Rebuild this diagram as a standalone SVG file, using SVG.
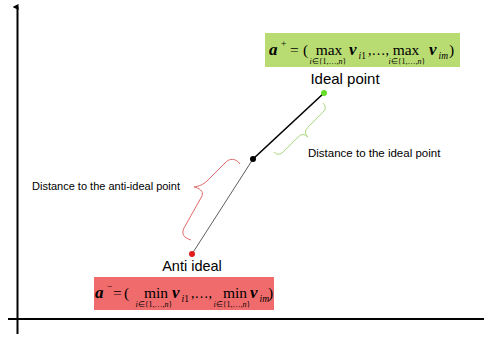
<svg xmlns="http://www.w3.org/2000/svg" width="484" height="338" viewBox="0 0 484 338">
<style>
.lbl{font-family:"Liberation Sans",Arial,sans-serif;fill:#000}
.m{font-family:"Liberation Serif","Times New Roman",serif;fill:#000;font-size:15.5px}
.bi{font-weight:bold;font-style:italic;font-size:17px}
.s{font-size:9.5px}
.c{font-size:14px}
.sub{font-size:8px;text-anchor:middle}
.it{font-style:italic}
.mid{text-anchor:middle}
</style>
<defs>
<marker id="ah" markerWidth="6" markerHeight="6" refX="3" refY="5" orient="auto" markerUnits="userSpaceOnUse">
<path d="M0,6 L3,0 L6,6 Z" fill="#000"/>
</marker>
</defs>
<rect width="484" height="338" fill="#fff"/>
<g id="axes">
<line x1="17.5" y1="334" x2="17.5" y2="7" stroke="#000" stroke-width="2" marker-end="url(#ah)"/>
<line x1="8" y1="319" x2="484" y2="319" stroke="#000" stroke-width="2"/>
</g>
<g id="connectors">
<line x1="192" y1="254" x2="253" y2="159" stroke="#333" stroke-width="0.8"/>
<line x1="253" y1="159" x2="324" y2="93" stroke="#000" stroke-width="1.6"/>
<path d="M323,103 Q327.6,107.6 323,112.2 L307.7,127.5 Q303.1,132.1 307.7,137 M307.7,137 Q303.1,132.1 298.5,136.7 L283.2,152 Q278.6,156.6 274,152" fill="none" stroke="#a9d77a" stroke-width="1"/>
<path d="M240,164 C236,158 229,158 225,163 L207,181 C203,185 199,186 194,187 C199,188 204,191 202,196 L184,228 C181,234 184,238 191,240" fill="none" stroke="#e06a6a" stroke-width="1"/>
</g>
<g id="ideal">
<rect x="265" y="33" width="195" height="34" fill="#b9dc72"/>
<text class="m" y="55"><tspan class="bi" x="269">a</tspan><tspan x="281" y="47" class="s">+</tspan><tspan x="290" y="55">=</tspan><tspan x="303">(</tspan></text>
<text class="m mid" x="329" y="55">max</text>
<text class="m sub" x="328" y="63.5"><tspan class="it">i</tspan>∈{1,…,<tspan class="it">n</tspan>}</text>
<text class="m" y="55"><tspan class="bi" x="349">v</tspan><tspan class="s it" x="358.5" y="59">i</tspan><tspan class="s" y="59">1</tspan><tspan class="c" x="368" y="55">,…,</tspan></text>
<text class="m mid" x="406" y="55">max</text>
<text class="m sub" x="407" y="63.5"><tspan class="it">i</tspan>∈{1,…,<tspan class="it">n</tspan>}</text>
<text class="m" y="55"><tspan class="bi" x="429">v</tspan><tspan class="s it" x="438.5" y="59">im</tspan><tspan x="449" y="55">)</tspan></text>
<text class="lbl mid" x="345" y="84" font-size="15">Ideal point</text>
<circle cx="324" cy="93" r="3" fill="#66dd2a"/>
</g>
<g id="mid">
<circle cx="253" cy="159" r="3" fill="#000"/>
</g>
<g id="anti">
<rect x="94" y="277" width="180" height="33" fill="#f06c6c"/>
<text class="m" y="298"><tspan class="bi" x="95">a</tspan><tspan x="107" y="290" class="s">−</tspan><tspan x="113" y="298">=</tspan><tspan x="124">(</tspan></text>
<text class="m mid" x="156" y="298">min</text>
<text class="m sub" x="154" y="306.5"><tspan class="it">i</tspan>∈{1,…,<tspan class="it">n</tspan>}</text>
<text class="m" y="298"><tspan class="bi" x="172">v</tspan><tspan class="s it" x="181.5" y="302">i</tspan><tspan class="s" y="302">1</tspan><tspan class="c" x="191" y="298">,…,</tspan></text>
<text class="m mid" x="235" y="298">min</text>
<text class="m sub" x="232" y="306.5"><tspan class="it">i</tspan>∈{1,…,<tspan class="it">n</tspan>}</text>
<text class="m" y="298"><tspan class="bi" x="250">v</tspan><tspan class="s it" x="259.5" y="302">im</tspan><tspan x="268" y="298">)</tspan></text>
<text class="lbl mid" x="192" y="271" font-size="14.5">Anti ideal</text>
<circle cx="192" cy="254" r="3" fill="#e01c1c"/>
</g>
<g id="labels">
<text class="lbl" x="32" y="190" font-size="11">Distance to the anti-ideal point</text>
<text class="lbl" x="308" y="157" font-size="11.5">Distance to the ideal point</text>
</g>
</svg>
